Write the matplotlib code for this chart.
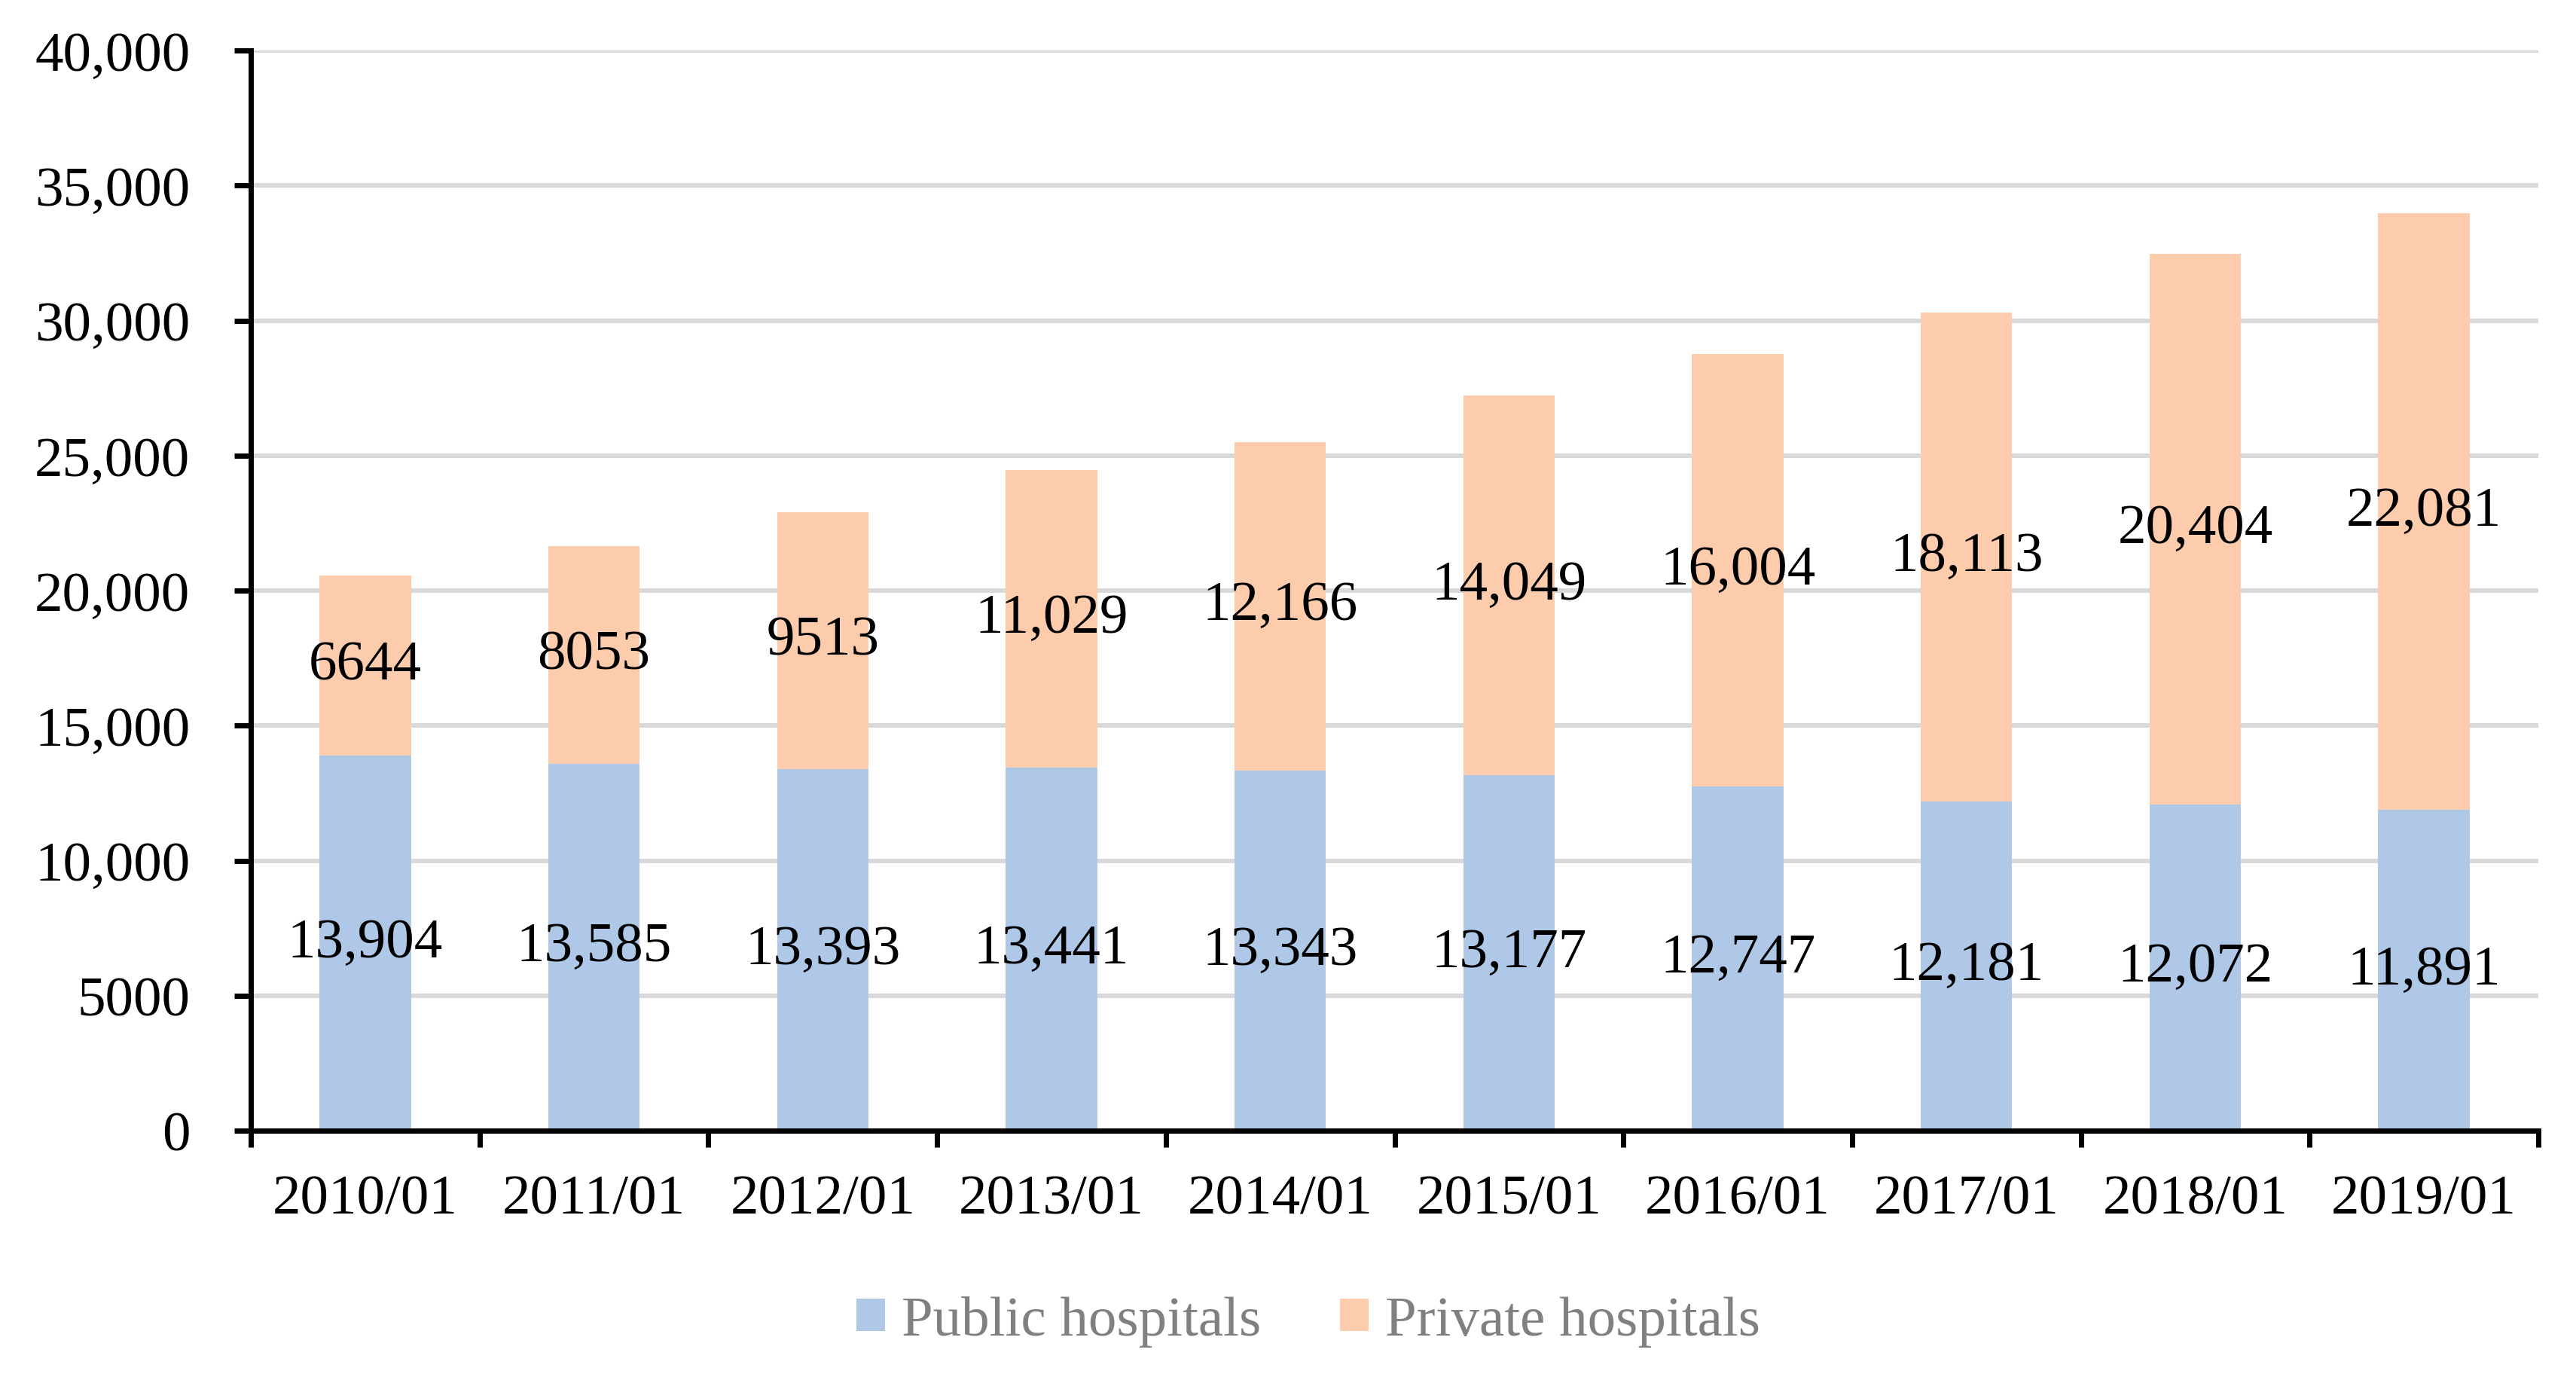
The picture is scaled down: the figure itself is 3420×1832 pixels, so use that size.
import matplotlib
matplotlib.use("Agg")
import matplotlib.pyplot as plt
import numpy as np

categories = ["2010/01", "2011/01", "2012/01", "2013/01", "2014/01",
              "2015/01", "2016/01", "2017/01", "2018/01", "2019/01"]
public = [13904, 13585, 13393, 13441, 13343, 13177, 12747, 12181, 12072, 11891]
private = [6644, 8053, 9513, 11029, 12166, 14049, 16004, 18113, 20404, 22081]
yticks = [0, 5000, 10000, 15000, 20000, 25000, 30000, 35000, 40000]
series_names = ["Public hospitals", "Private hospitals"]

plt.rcParams['font.family'] = ['Liberation Serif', 'DejaVu Serif']
FS = 54

def fmt(v):
    v = int(v)
    return f"{v:,}" if v >= 10000 else str(v)

fig = plt.figure(figsize=(34.2, 18.33), dpi=100)
ax = fig.add_axes([333/3420, 1 - 1502/1833, (3370 - 333)/3420, (1502 - 68)/1833])

x = np.arange(len(categories))
w = 0.4
b1 = ax.bar(x, public, width=w, color="#AFC8E8", label=series_names[0], zorder=2)
b2 = ax.bar(x, private, width=w, bottom=public, color="#FDCCAC", label=series_names[1], zorder=2)

for i in range(len(categories)):
    ax.text(x[i], public[i] / 2, fmt(public[i]), ha="center", va="center",
            fontsize=FS, color="black", zorder=3)
    ax.text(x[i], public[i] + private[i] / 2, fmt(private[i]), ha="center", va="center",
            fontsize=FS, color="black", zorder=3)

ax.set_xlim(-0.5, len(categories) - 0.5)
ax.set_ylim(0, 40000)
ax.set_yticks(yticks)
ax.set_yticklabels([fmt(v) for v in yticks], fontsize=FS)
ax.yaxis.grid(True, color="#D9D9D9", linewidth=4.3, zorder=0)
ax.set_axisbelow(True)

ax.set_xticks(x)
ax.set_xticklabels(categories, fontsize=FS)
ax.tick_params(axis="x", which="major", length=0, pad=42)
ax.set_xticks(np.arange(-0.5, len(categories)), minor=True)
ax.tick_params(axis="x", which="minor", length=16, width=5, direction="out")
ax.tick_params(axis="y", length=16, width=5, direction="out", pad=42)

for s in ["top", "right"]:
    ax.spines[s].set_visible(False)
for s in ["left", "bottom"]:
    ax.spines[s].set_linewidth(5)
    ax.spines[s].set_color("black")

leg = fig.legend(handles=[b1, b2], labels=series_names, loc="center",
                 bbox_to_anchor=(0.508, 1 - 1755/1833), ncol=2, frameon=False,
                 fontsize=FS, handlelength=0.5, handleheight=0.5,
                 handletextpad=0.3, columnspacing=1.4)
for t in leg.get_texts():
    t.set_color("#808080")

fig.savefig("out.png", dpi=100, facecolor="white")
